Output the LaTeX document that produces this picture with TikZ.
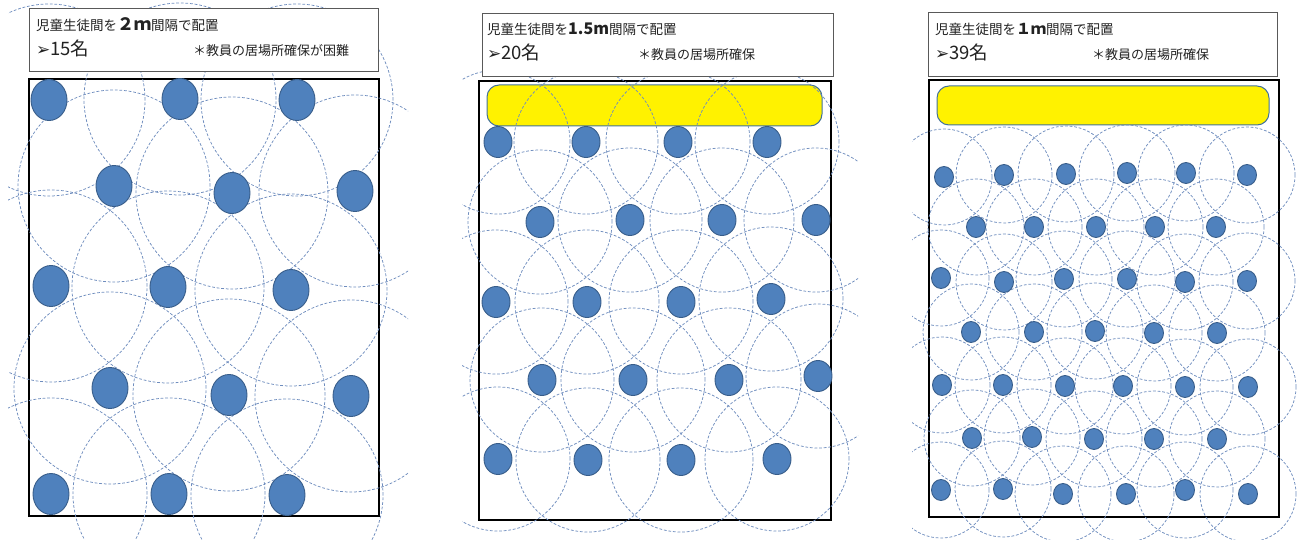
\documentclass[tikz,border=0pt]{standalone}
\usepackage{fontspec}
\setmainfont{Noto Sans CJK JP}
\newfontfamily\arrowfont{DejaVu Sans}
\usepackage{xcolor}
\usetikzlibrary{positioning, shapes.geometric}
\definecolor{seatblue}{HTML}{4F81BD}
\definecolor{seatedge}{HTML}{385D8A}
\definecolor{zoneblue}{HTML}{6F8DBE}
\definecolor{boardedge}{HTML}{41719C}
\definecolor{inkgray}{HTML}{222222}

% seats (name/x/y) in pixel coordinates
\def\seatsA{a1/49/100, a2/180/99, a3/297/100, a4/114/186, a5/232/193, a6/355/191,
  a7/51/286, a8/168/287, a9/291/290, a10/110/388, a11/229/395, a12/351/396,
  a13/51/494, a14/169/494, a15/287/495}
\def\seatsB{b1/498/142, b2/586/142, b3/678/142, b4/767/142, b5/540/222, b6/630/220,
  b7/722/220, b8/816/220, b9/496/302, b10/587/302, b11/681/302, b12/771/299,
  b13/542/380, b14/633/380, b15/729/380, b16/818/376, b17/498/459, b18/588/460,
  b19/681/460, b20/777/459}
\def\seatsC{c1/944/177, c2/1004/175, c3/1066/174, c4/1127/173, c5/1186/173, c6/1247/175,
  c7/976/227, c8/1034/227, c9/1096/227, c10/1155/227, c11/1216/227,
  c12/941/278, c13/1004/282, c14/1064/279, c15/1127/279, c16/1185/282, c17/1247/281,
  c18/971/332, c19/1034/332, c20/1095/331, c21/1154/333, c22/1217/333,
  c23/942/385, c24/1003/385, c25/1065/386, c26/1123/386, c27/1185/387, c28/1248/387,
  c29/972/438, c30/1032/437, c31/1094/439, c32/1154/439, c33/1217/439,
  c34/941/490, c35/1003/489, c36/1063/494, c37/1126/494, c38/1185/490, c39/1248/494}

\begin{document}
\begin{tikzpicture}[x=1pt, y=-1pt,
    seat/.style={ellipse, fill=seatblue, draw=seatedge, line width=0.9pt, inner sep=0pt},
    zone/.style={draw=zoneblue, line width=0.75pt, dash pattern=on 2.8pt off 1.8pt},
    room/.style={draw=black, line width=2.2pt},
    board/.style={fill=yellow, draw=boardedge, line width=1pt, rounded corners=12pt},
    headbox/.style={rectangle, draw=black!65, line width=0.9pt, fill=white, anchor=north west,
      minimum width=349pt, minimum height=63pt},
    line/.style={anchor=base west, inner sep=0pt, text=inkgray, font=\fontsize{13.5}{14}\selectfont},
    big/.style={anchor=base west, inner sep=0pt, text=inkgray, font=\fontsize{18.5}{18}\selectfont},
    note/.style={anchor=base west, inner sep=0pt, text=inkgray, font=\fontsize{13}{13}\selectfont}]
  \useasboundingbox (0,0) rectangle (1298,540);

  % 2m
  \begin{scope}
    \clip (8,0) rectangle (408,540);
    \draw[room] (29,79) rectangle (379,516);
    \foreach \n/\x/\y in \seatsA \draw[zone] (\x,\y) circle[radius=96pt];
    \foreach \n/\x/\y in \seatsA
      \node[seat, minimum width=36pt, minimum height=41pt] (\n) at (\x,\y) {};
  \end{scope}

  % 1.5m
  \begin{scope}
    \clip (462,0) rectangle (858,540);
    \draw[room] (479,81) rectangle (831,520);
    \draw[board] (487,85) rectangle (822,126);
    \foreach \n/\x/\y in \seatsB \draw[zone] (\x,\y) circle[radius=72pt];
    \foreach \n/\x/\y in \seatsB
      \node[seat, minimum width=28pt, minimum height=31pt] (\n) at (\x,\y) {};
  \end{scope}

  % 1m
  \begin{scope}
    \clip (912,0) rectangle (1298,540);
    \draw[room] (929,80) rectangle (1279,517);
    \draw[board] (937,86) rectangle (1269,125);
    \foreach \n/\x/\y in \seatsC \draw[zone] (\x,\y) circle[radius=48pt];
    \foreach \n/\x/\y in \seatsC
      \node[seat, minimum width=19pt, minimum height=21pt] (\n) at (\x,\y) {};
  \end{scope}

  % headers
  \node[headbox] (headA) at (29,8) {};
  \node[line] (titleA) at ([xshift=7pt, yshift=-23pt]headA.north west)
    {児童生徒間を{\bfseries\fontsize{17}{17}\selectfont ２ｍ}間隔で配置};
  \node[big] (countA) at ([xshift=7pt, yshift=-48pt]headA.north west)
    {{\arrowfont\fontsize{17}{17}\selectfont ➢}15名};
  \node[note] (noteA) at ([xshift=164pt, yshift=-48pt]headA.north west) {＊教員の居場所確保が困難};

  \node[headbox, minimum width=351pt] (headB) at (482,13) {};
  \node[line] (titleB) at ([xshift=5pt, yshift=-22pt]headB.north west)
    {児童生徒間を{\bfseries\fontsize{16}{16}\selectfont 1.5m}間隔で配置};
  \node[big] (countB) at ([xshift=5pt, yshift=-47pt]headB.north west)
    {{\arrowfont\fontsize{17}{17}\selectfont ➢}20名};
  \node[note] (noteB) at ([xshift=156pt, yshift=-47pt]headB.north west) {＊教員の居場所確保};

  \node[headbox, minimum height=64pt] (headC) at (928,12) {};
  \node[line] (titleC) at ([xshift=7pt, yshift=-23pt]headC.north west)
    {児童生徒間を{\bfseries\fontsize{15}{15}\selectfont １ｍ}間隔で配置};
  \node[big] (countC) at ([xshift=7pt, yshift=-48pt]headC.north west)
    {{\arrowfont\fontsize{17}{17}\selectfont ➢}39名};
  \node[note] (noteC) at ([xshift=164pt, yshift=-48pt]headC.north west) {＊教員の居場所確保};
\end{tikzpicture}
\end{document}
